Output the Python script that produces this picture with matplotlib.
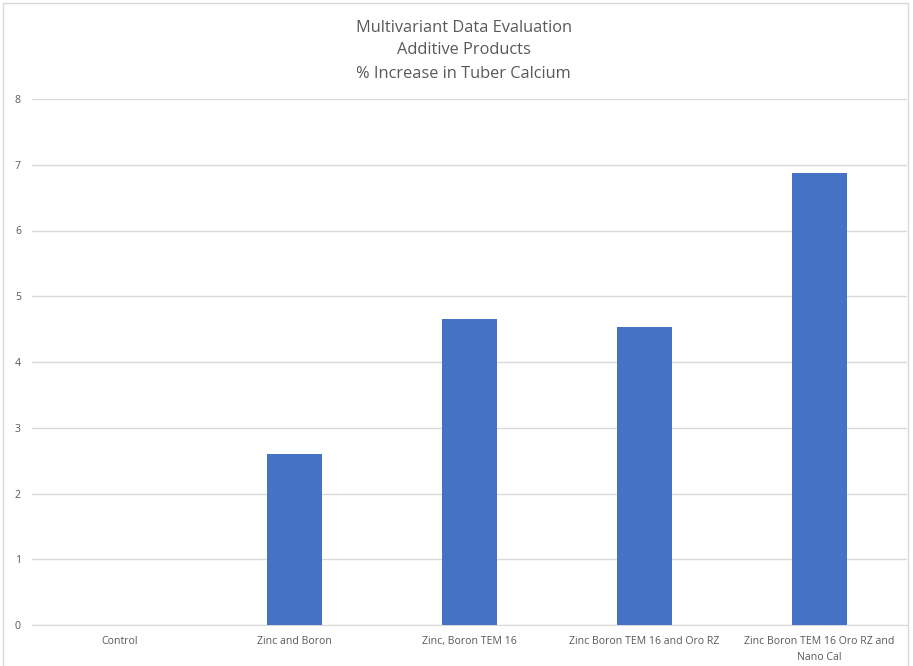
import matplotlib.pyplot as plt
from matplotlib.patches import Rectangle

# dados do grafico
categorias = ["Control", "Zinc and Boron", "Zinc, Boron TEM 16",
              "Zinc Boron TEM 16 and Oro RZ", "Zinc Boron TEM 16 Oro RZ and\nNano Cal"]
valores = [0, 2.60, 4.66, 4.53, 6.87]
yticks = [0, 1, 2, 3, 4, 5, 6, 7, 8]

cinza = "#595959"
grade = "#D9D9D9"
plt.rcParams['font.family'] = ['Open Sans', 'DejaVu Sans']

fig = plt.figure(figsize=(9.13, 6.66), dpi=100)
ax = fig.add_axes([32 / 913, 41 / 666, 875 / 913, 526 / 666])

x = range(len(categorias))
ax.bar(x, valores, width=0.314, color="#4472C4", zorder=3)

ax.set_xlim(-0.5, len(categorias) - 0.5)
ax.set_ylim(0, 8)
ax.set_yticks(yticks)
ax.set_xticks(list(x))
ax.set_xticklabels(categorias, fontsize=7.6, color=cinza, linespacing=1.6)
ax.tick_params(axis='y', labelsize=7.6, labelcolor=cinza, length=0, pad=8)
ax.tick_params(axis='x', length=0, pad=8)
ax.grid(axis='y', color=grade, linewidth=1, zorder=0)
for lado in ['top', 'right', 'left']:
    ax.spines[lado].set_visible(False)
ax.spines['bottom'].set_color(grade)

# titulo em tres linhas
fig.text(0.508, 1 - 27.5 / 666, "Multivariant Data Evaluation", ha='center', va='center',
         fontsize=11.8, color=cinza)
fig.text(0.508, 1 - 50 / 666, "Additive Products", ha='center', va='center',
         fontsize=11.8, color=cinza)
fig.text(0.508, 1 - 73.5 / 666, "% Increase in Tuber Calcium", ha='center', va='center',
         fontsize=11.8, color=cinza)

# borda do grafico
fig.patches.append(Rectangle((3 / 913, -0.01), 905 / 913, 1 - 3 / 666 + 0.01,
                             transform=fig.transFigure, fill=False,
                             edgecolor=grade, linewidth=1))

fig.savefig("out.png", dpi=100)
